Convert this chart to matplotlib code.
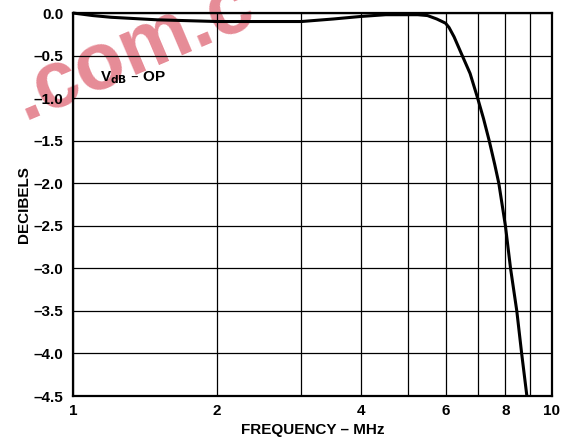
import numpy as np
import matplotlib
matplotlib.use('Agg')
import matplotlib.pyplot as plt
from matplotlib.ticker import FixedLocator, NullLocator, FixedFormatter

plt.rcParams['font.family'] = ['Liberation Sans', 'DejaVu Sans']
plt.rcParams['font.weight'] = 'bold'

# response curve
freq_mhz = [1.0, 1.1, 1.2, 1.5, 2.0, 2.5, 3.0, 3.5, 4.0, 4.5, 5.0, 5.25, 5.5,
            5.75, 5.9, 6.0, 6.1, 6.25, 6.5, 6.75, 7.0, 7.2, 7.4, 7.6, 7.75,
            8.0, 8.2, 8.45, 8.65, 8.87]
gain_db = [0.0, -0.03, -0.05, -0.08, -0.1, -0.1, -0.1, -0.07, -0.04, -0.02,
           -0.02, -0.02, -0.03, -0.07, -0.1, -0.12, -0.17, -0.28, -0.5, -0.71,
           -1.0, -1.24, -1.5, -1.78, -2.0, -2.5, -3.0, -3.5, -4.0, -4.5]

x_grid = [1, 2, 3, 4, 5, 6, 7, 8, 9, 10]
x_ticks = [1, 2, 4, 6, 8, 10]
y_ticks = [0.0, -0.5, -1.0, -1.5, -2.0, -2.5, -3.0, -3.5, -4.0, -4.5]

fig = plt.figure(figsize=(5.68, 4.41), dpi=100)
ax = fig.add_axes([0.1285, 0.102, 0.843, 0.8685])
ax.patch.set_facecolor('none')

# site stamp running off the top edge, under the axes
fig.text(24 / 568, 1 - 120 / 441, '.com.c', fontsize=58, fontweight='bold',
         color='#dc5a6a', alpha=0.7, rotation=23, rotation_mode='anchor',
         ha='left', va='baseline', zorder=-1)

ax.set_xscale('log')
ax.set_xlim(1, 10)
ax.set_ylim(-4.5, 0.0)

for xv in x_grid:
    ax.axvline(xv, color='black', lw=0.9, zorder=1)
for yv in y_ticks:
    ax.axhline(yv, color='black', lw=0.9, zorder=1)

ax.plot(freq_mhz, gain_db, color='black', lw=2.2, zorder=3, clip_on=False,
        solid_capstyle='butt', solid_joinstyle='round')

ax.xaxis.set_major_locator(FixedLocator(x_ticks))
ax.xaxis.set_major_formatter(FixedFormatter([str(v) for v in x_ticks]))
ax.xaxis.set_minor_locator(NullLocator())
ax.yaxis.set_major_locator(FixedLocator(y_ticks))
ax.set_yticklabels([('%.1f' % v).replace('-', '\u2013') for v in y_ticks])
ax.tick_params(axis='both', length=0, labelsize=11)
ax.tick_params(axis='y', pad=7)
ax.tick_params(axis='x', pad=6)

for s in ax.spines.values():
    s.set_linewidth(1.6)
    s.set_zorder(4)

ax.set_xlabel('FREQUENCY \u2013 MHz', fontsize=11, fontweight='bold', labelpad=3)
ax.set_ylabel('DECIBELS', fontsize=11, fontweight='bold', labelpad=2)

ax.text(1.139, -0.76, 'V$_{\\mathbf{dB}}$ \u2013 OP', fontsize=11,
        fontweight='bold', ha='left', va='center', zorder=5)

fig.savefig('out.png', dpi=100)
